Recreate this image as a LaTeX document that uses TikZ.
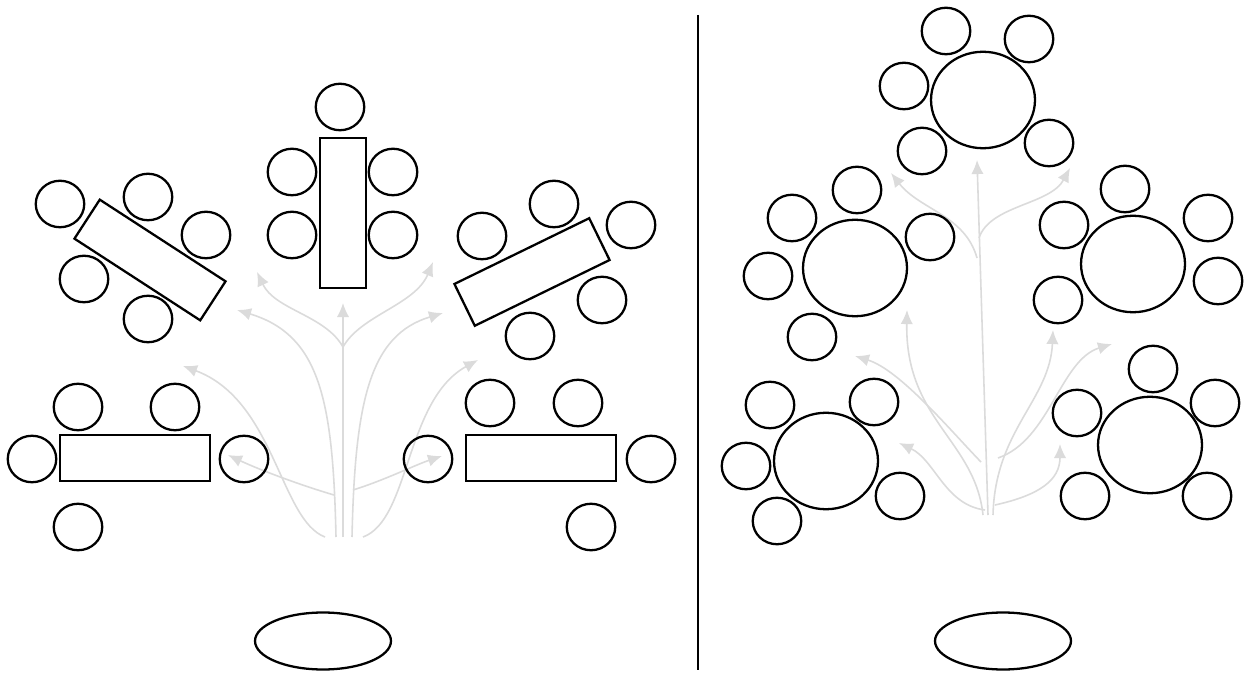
\documentclass[tikz,border=0pt]{standalone}
\usetikzlibrary{shapes.geometric,arrows.meta}
\tikzset{
  seat/.style={draw=black,line width=1.3pt,ellipse,minimum width=0.97cm,minimum height=0.93cm,inner sep=0pt},
  tab/.style={draw=black,line width=1.3pt,rectangle,minimum width=3cm,minimum height=0.93cm,inner sep=0pt},
  rtab/.style={draw=black,line width=1.3pt,ellipse,minimum width=2.08cm,minimum height=1.93cm,inner sep=0pt},
  stage/.style={draw=black,line width=1.3pt,ellipse,minimum width=2.72cm,minimum height=1.14cm,inner sep=0pt},
  flow/.style={draw=gray!28,line width=0.9pt,-{Latex[length=8pt,width=7pt]}},
  divider/.style={draw=black,line width=1.2pt}
}
\begin{document}
\begin{tikzpicture}[x={(0.02cm,0)},y={(0,-0.02cm)}]
\useasboundingbox (0,0) rectangle (1250,678);
\fill[white] (0,0) rectangle (1250,678);

% ---------------- left panel: flow arrows ----------------
\draw[flow] (343,537) -- (343,303);
\draw[flow] (336,537) .. controls (333,400) and (320,335) .. (237,310);
\draw[flow] (352,537) .. controls (355,400) and (370,335) .. (443,313);
\draw[flow] (343,347) .. controls (325,315) and (275,310) .. (257,272);
\draw[flow] (343,347) .. controls (361,315) and (415,305) .. (433,262);
\draw[flow] (334,495) .. controls (300,485) and (260,470) .. (228,455);
\draw[flow] (353,490) .. controls (385,480) and (415,465) .. (442,456);
\draw[flow] (325,537) .. controls (280,520) and (275,400) .. (183,366);
\draw[flow] (363,537) .. controls (410,520) and (405,400) .. (478,360);

% ---------------- left panel: furniture ----------------
% top vertical table
\node[tab,minimum width=0.92cm,minimum height=3cm] (lt) at (343,213) {};
\node[seat] (lt1) at (340,107) {};
\node[seat] (lt2) at (292,172) {};
\node[seat] (lt3) at (292,235) {};
\node[seat] (lt4) at (393,172) {};
\node[seat] (lt5) at (393,235) {};
% upper-left tilted table
\node[tab,rotate=-33] (lu) at (150,260) {};
\node[seat] (lu1) at (60,204) {};
\node[seat] (lu2) at (148,197) {};
\node[seat] (lu3) at (206,235) {};
\node[seat] (lu4) at (84,279) {};
\node[seat] (lu5) at (148,319) {};
% upper-right tilted table
\node[tab,rotate=26] (ru) at (532,272) {};
\node[seat] (ru1) at (482,236) {};
\node[seat] (ru2) at (554,204) {};
\node[seat] (ru3) at (631,225) {};
\node[seat] (ru4) at (602,300) {};
\node[seat] (ru5) at (530,336) {};
% lower-left table
\node[tab] (ll) at (135,458) {};
\node[seat] (ll1) at (78,407) {};
\node[seat] (ll2) at (175,407) {};
\node[seat] (ll3) at (32,459) {};
\node[seat] (ll4) at (244,459) {};
\node[seat] (ll5) at (78,527) {};
% lower-right table
\node[tab] (lr) at (541,458) {};
\node[seat] (lr1) at (490,403) {};
\node[seat] (lr2) at (578,403) {};
\node[seat] (lr3) at (428,459) {};
\node[seat] (lr4) at (651,459) {};
\node[seat] (lr5) at (591,527) {};
% stage
\node[stage] (ls) at (323,641) {};

% divider
\coordinate (dtop) at (698,15);
\coordinate (dbot) at (698,670);
\draw[divider] (dtop) -- (dbot);

% ---------------- right panel: flow arrows ----------------
\draw[flow] (988,515) -- (977,160);
\draw[flow] (977,258) .. controls (965,215) and (920,210) .. (891,173);
\draw[flow] (979,238) .. controls (990,205) and (1050,205) .. (1070,168);
\draw[flow] (983,515) .. controls (975,440) and (905,420) .. (907,310);
\draw[flow] (981,462) .. controls (950,430) and (900,370) .. (855,356);
\draw[flow] (993,515) .. controls (995,430) and (1050,400) .. (1053,330);
\draw[flow] (998,458) .. controls (1050,440) and (1060,360) .. (1112,344);
\draw[flow] (985,510) .. controls (945,505) and (935,460) .. (899,443);
\draw[flow] (995,505) .. controls (1040,495) and (1060,480) .. (1060,444);

% ---------------- right panel: round tables ----------------
\node[rtab] (t1) at (983,100) {};
\node[seat] (t1a) at (946,31) {};
\node[seat] (t1b) at (1029,39) {};
\node[seat] (t1c) at (904,86) {};
\node[seat] (t1d) at (922,151) {};
\node[seat] (t1e) at (1049,143) {};

\node[rtab] (t2) at (855,268) {};
\node[seat] (t2a) at (792,218) {};
\node[seat] (t2b) at (857,190) {};
\node[seat] (t2c) at (930,237) {};
\node[seat] (t2d) at (768,276) {};
\node[seat] (t2e) at (812,337) {};

\node[rtab] (t3) at (1133,264) {};
\node[seat] (t3a) at (1125,189) {};
\node[seat] (t3b) at (1064,225) {};
\node[seat] (t3c) at (1208,218) {};
\node[seat] (t3d) at (1218,281) {};
\node[seat] (t3e) at (1058,300) {};

\node[rtab] (t4) at (826,461) {};
\node[seat] (t4a) at (770,405) {};
\node[seat] (t4b) at (874,402) {};
\node[seat] (t4c) at (746,466) {};
\node[seat] (t4d) at (900,496) {};
\node[seat] (t4e) at (777,521) {};

\node[rtab] (t5) at (1150,445) {};
\node[seat] (t5a) at (1153,369) {};
\node[seat] (t5b) at (1077,413) {};
\node[seat] (t5c) at (1215,403) {};
\node[seat] (t5d) at (1085,496) {};
\node[seat] (t5e) at (1207,496) {};

\node[stage] (rs) at (1003,641) {};
\end{tikzpicture}
\end{document}
